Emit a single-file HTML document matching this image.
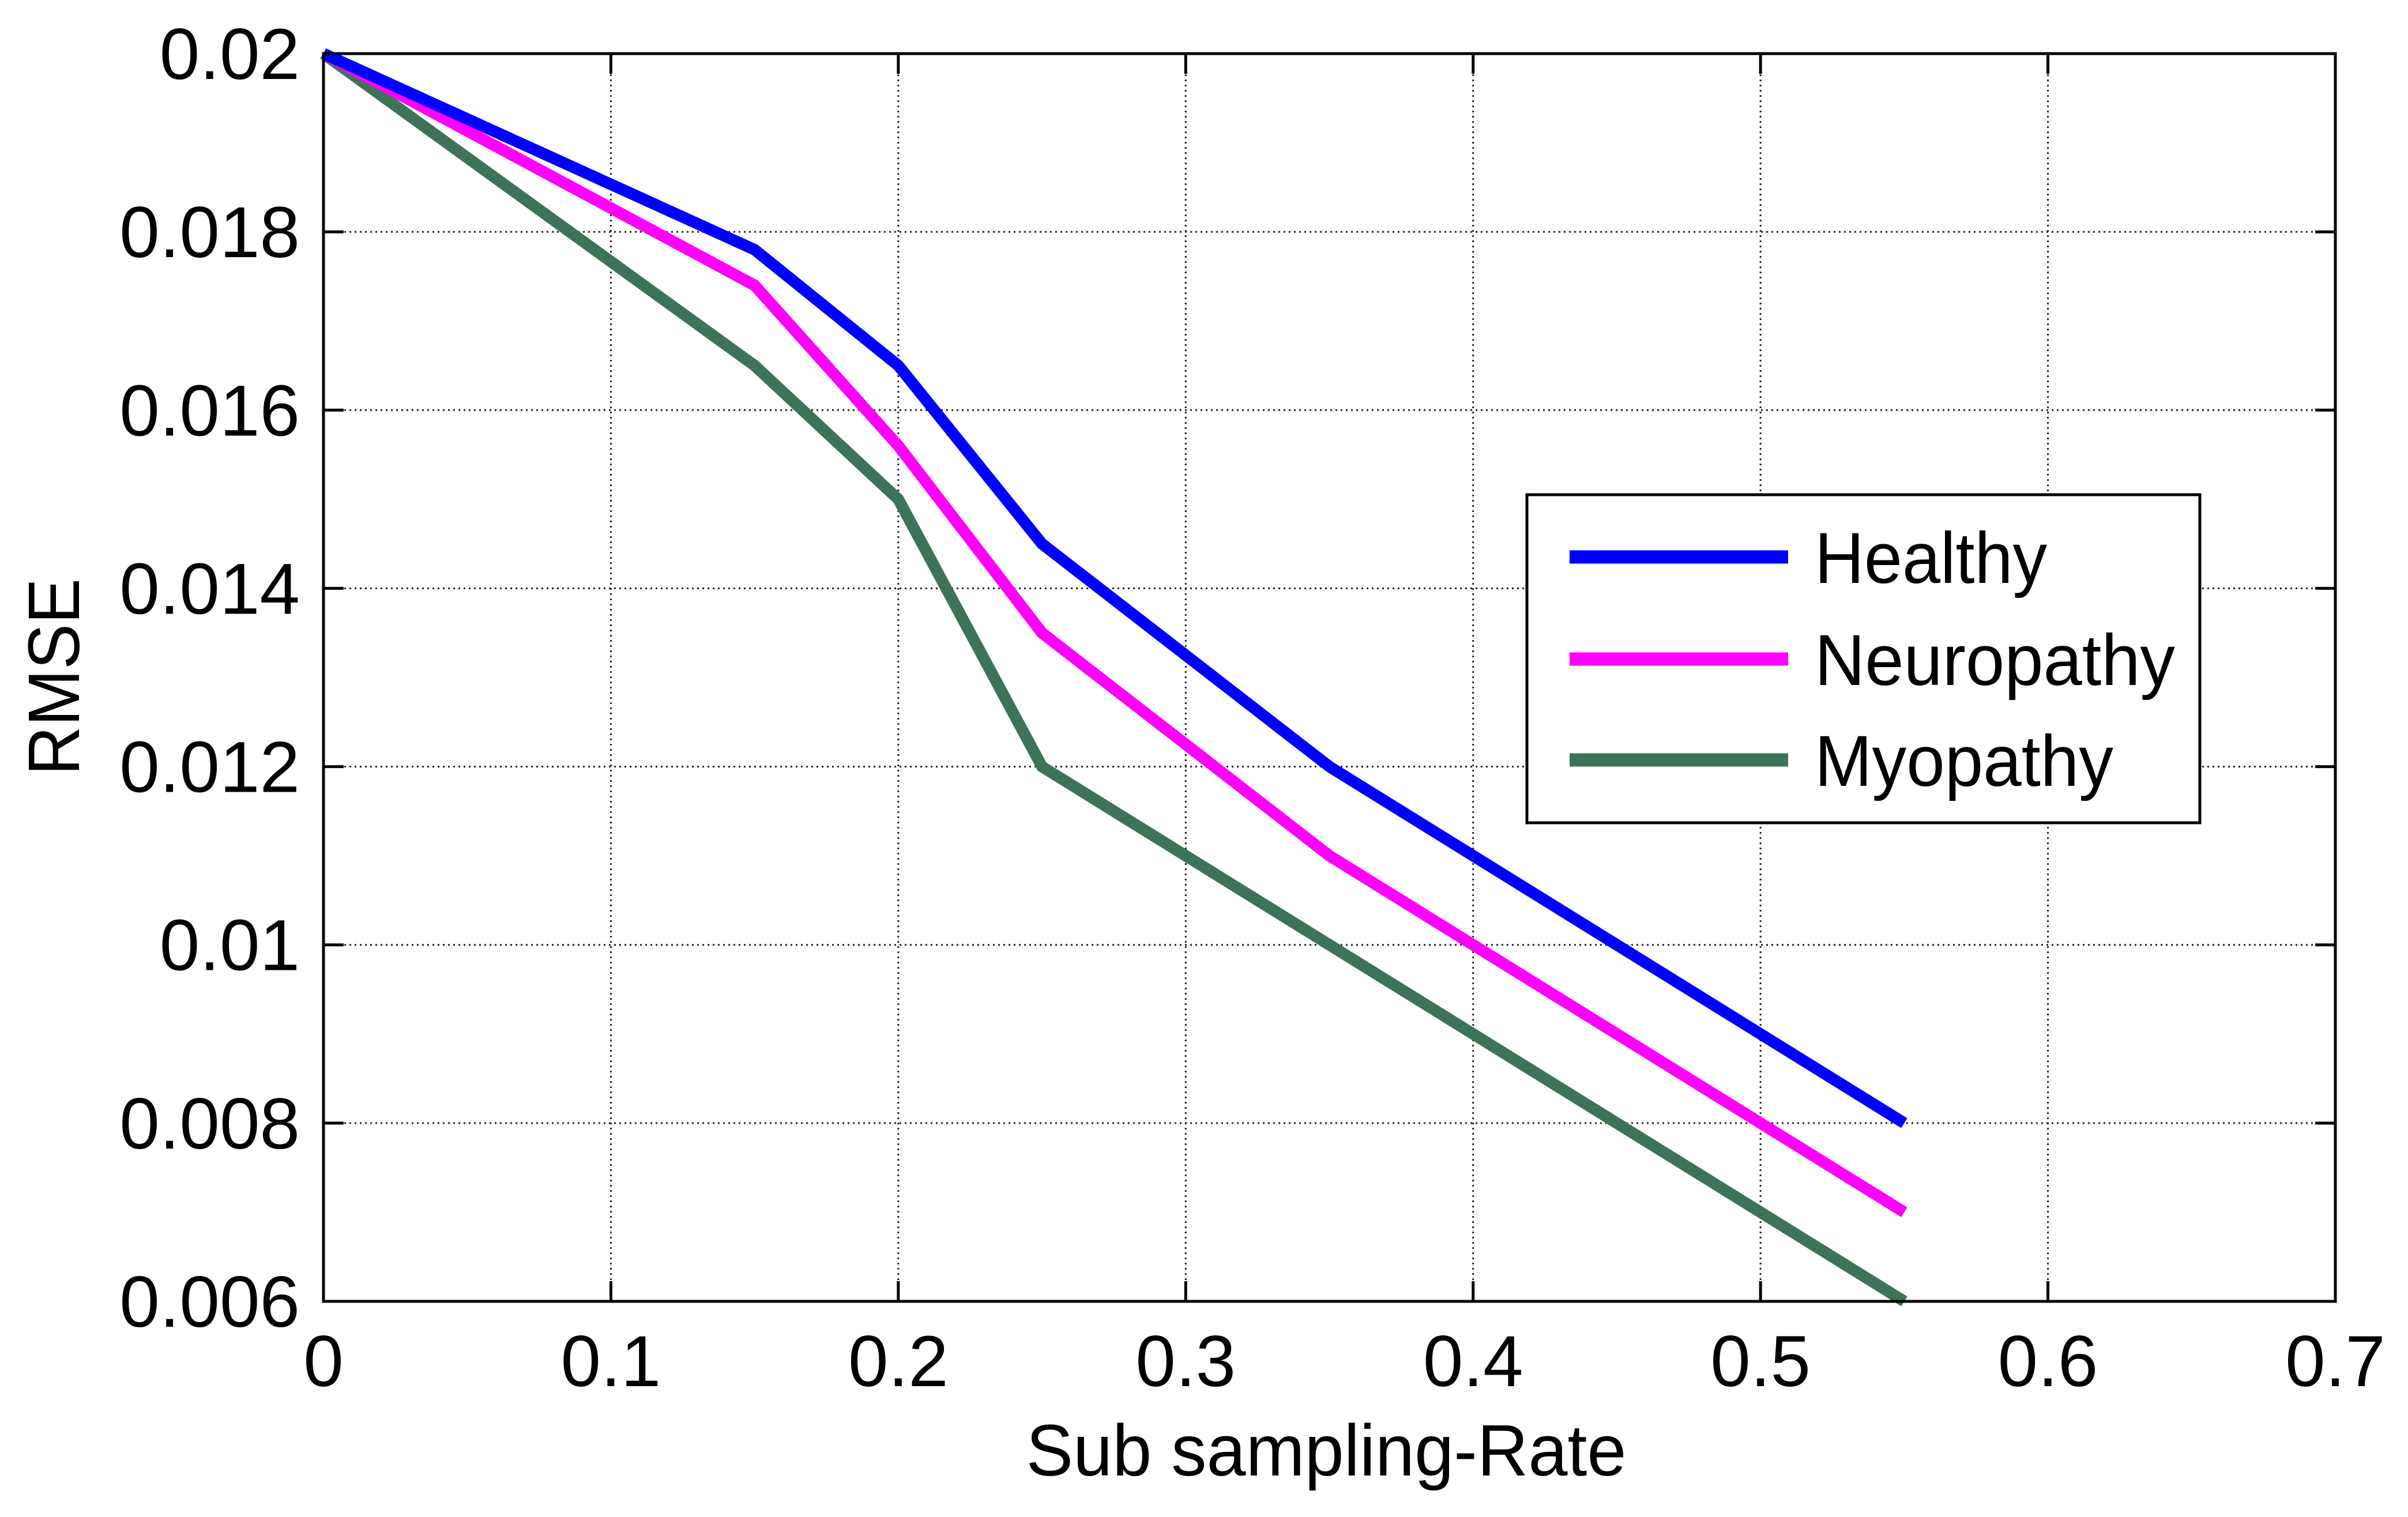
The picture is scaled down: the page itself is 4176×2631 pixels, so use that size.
<!DOCTYPE html>
<html><head><meta charset="utf-8"><style>html,body{margin:0;padding:0;background:#fff}svg{display:block}</style></head>
<body>
<svg id="chart" width="4176" height="2631" viewBox="0 0 4176 2631" xmlns="http://www.w3.org/2000/svg" font-family="'Liberation Sans', Arial, sans-serif">
<rect width="4176" height="2631" fill="#fff"/>
<g id="grid"></g>
<g id="series"></g>
<g id="ticks"></g>
<rect x="561" y="93" width="3489" height="2164" fill="none" stroke="#000" stroke-width="5"/>
<text x="2300" y="2559" font-size="126" text-anchor="middle" textLength="1041" lengthAdjust="spacingAndGlyphs">Sub sampling-Rate</text>
<text transform="translate(137,1174) rotate(-90)" font-size="126" text-anchor="middle" textLength="342" lengthAdjust="spacingAndGlyphs">RMSE</text>
<g>
<rect x="2648" y="858" width="1167" height="569" fill="#fff" stroke="#000" stroke-width="5"/>
<g id="legend-entries"></g>
</g>
</svg>
<script>
const xTicks = [0, 0.1, 0.2, 0.3, 0.4, 0.5, 0.6, 0.7];
const xTickLabels = ["0", "0.1", "0.2", "0.3", "0.4", "0.5", "0.6", "0.7"];
const yTicks = [0.006, 0.008, 0.01, 0.012, 0.014, 0.016, 0.018, 0.02];
const yTickLabels = ["0.006", "0.008", "0.01", "0.012", "0.014", "0.016", "0.018", "0.02"];
const rates = [0, 0.15, 0.2, 0.25, 0.35, 0.55];
const healthy = [0.02, 0.0178, 0.0165, 0.0145, 0.012, 0.008];
const neuropathy = [0.02, 0.0174, 0.0156, 0.0135, 0.011, 0.007];
const myopathy = [0.02, 0.0165, 0.015, 0.012, 0.010, 0.006];
const seriesNames = ["Healthy", "Neuropathy", "Myopathy"];

const NS = "http://www.w3.org/2000/svg";
const L = 561, R = 4050, T = 93, B = 2257;
const xs = v => L + (v - 0) / 0.7 * (R - L);
const ys = v => B - (v - 0.006) / 0.014 * (B - T);
function mk(tag, attrs, parent) {
  const e = document.createElementNS(NS, tag);
  for (const k in attrs) e.setAttribute(k, attrs[k]);
  parent.appendChild(e);
  return e;
}
const grid = document.getElementById('grid');
const ticks = document.getElementById('ticks');
xTicks.forEach((v, i) => {
  const x = xs(v);
  if (i > 0 && i < xTicks.length - 1) {
    const g = mk('line', {x1: x, x2: x, y1: T, y2: B, stroke: '#222', 'stroke-width': 3, 'stroke-dasharray': '3 6'}, grid);
    
    
  }
  const t1 = mk('line', {x1: x, x2: x, y1: B, y2: B - 35, stroke: '#000', 'stroke-width': 5}, ticks);
  
  
  const t2 = mk('line', {x1: x, x2: x, y1: T, y2: T + 35, stroke: '#000', 'stroke-width': 5}, ticks);
  
  
  const lab = mk('text', {x: x, y: 2404, 'font-size': 125, 'text-anchor': 'middle'}, ticks);
  lab.textContent = xTickLabels[i];
  
  
});
yTicks.forEach((v, i) => {
  const y = ys(v);
  if (i > 0 && i < yTicks.length - 1) {
    const g = mk('line', {x1: L, x2: R, y1: y, y2: y, stroke: '#222', 'stroke-width': 3, 'stroke-dasharray': '3 6'}, grid);
    
    
  }
  const t1 = mk('line', {x1: L, x2: L + 35, y1: y, y2: y, stroke: '#000', 'stroke-width': 5}, ticks);
  
  
  const t2 = mk('line', {x1: R, x2: R - 35, y1: y, y2: y, stroke: '#000', 'stroke-width': 5}, ticks);
  
  
  const lab = mk('text', {x: 520, y: y + 44, 'font-size': 125, 'text-anchor': 'end'}, ticks);
  lab.textContent = yTickLabels[i];
  
  
});
const seriesData = [healthy, neuropathy, myopathy];
const colors = ['#0000ff', '#ff00ff', '#3d7358'];
const sg = document.getElementById('series');
seriesData.slice().reverse().forEach((arr, ri) => {
  const i = seriesData.length - 1 - ri;
  const pts = arr.map((v, j) => xs(rates[j]) + ',' + ys(v)).join(' ');
  const p = mk('polyline', {points: pts, fill: 'none', stroke: colors[i], 'stroke-width': 20, 'stroke-linejoin': 'miter', 'stroke-linecap': 'butt'}, sg);
  
  
});
const le = document.getElementById('legend-entries');
const rowY = [966, 1143, 1318];
const textW = [403, 625, 518];
seriesNames.forEach((n, i) => {
  const l = mk('line', {x1: 2722, x2: 3101, y1: rowY[i], y2: rowY[i], stroke: colors[i], 'stroke-width': 23}, le);
  
  
  const t = mk('text', {x: 3147, y: rowY[i] + 45, 'font-size': 125, textLength: textW[i], lengthAdjust: 'spacingAndGlyphs'}, le);
  t.textContent = n;
  
  
});
</script>
</body></html>
